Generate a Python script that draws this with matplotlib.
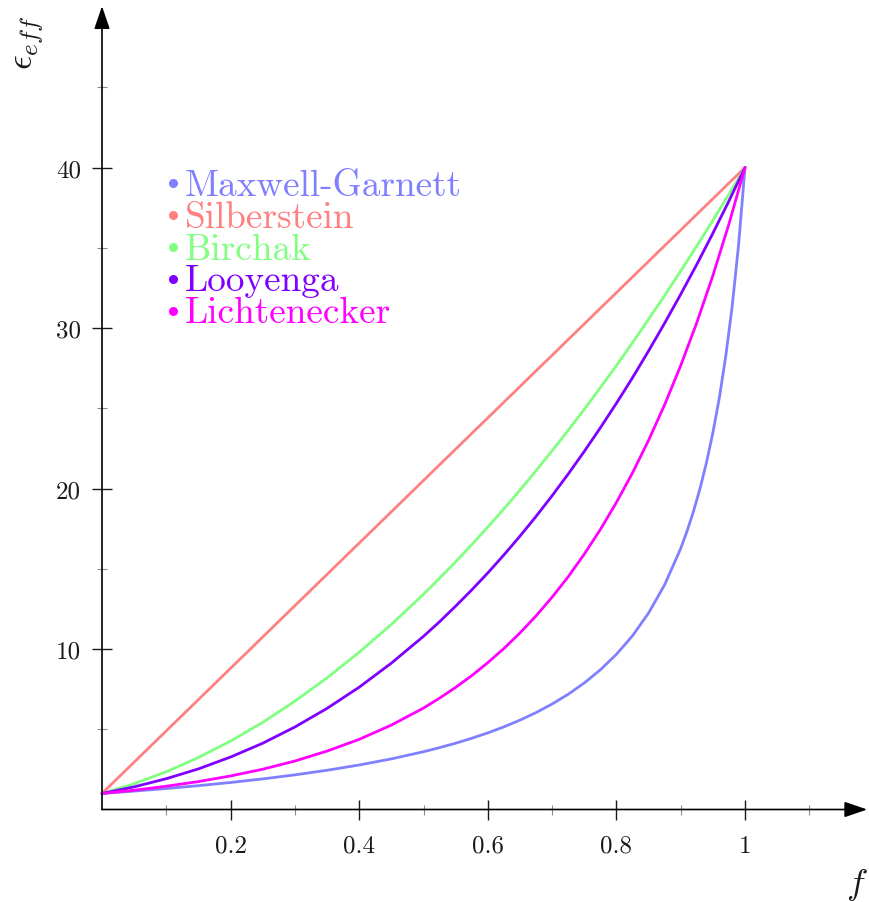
import matplotlib
matplotlib.use("Agg")
import matplotlib.pyplot as plt
from matplotlib.ticker import FixedLocator

plt.rcParams['font.family'] = 'cmr10'
plt.rcParams['mathtext.fontset'] = 'cm'

# volume fraction grid
f = [0.0, 0.05, 0.1, 0.15, 0.2, 0.25, 0.3, 0.35, 0.4, 0.45, 0.5,
     0.525, 0.55, 0.575, 0.6, 0.625, 0.65, 0.675, 0.7, 0.725, 0.75, 0.775,
     0.8, 0.825, 0.85, 0.875, 0.9, 0.925, 0.95, 0.975, 1.0]

silberstein = [1.0, 2.95, 4.9, 6.85, 8.8, 10.75, 12.7, 14.65, 16.6, 18.55, 20.5,
               21.48, 22.45, 23.43, 24.4, 25.38, 26.35, 27.33, 28.3, 29.28, 30.25, 31.23,
               32.2, 33.18, 34.15, 35.13, 36.1, 37.08, 38.05, 39.03, 40.0]
birchak = [1.0, 1.60, 2.35, 3.24, 4.26, 5.43, 6.75, 8.20, 9.80, 11.53, 13.41,
           14.41, 15.43, 16.50, 17.60, 18.73, 19.90, 21.11, 22.35, 23.62, 24.93, 26.28,
           27.66, 29.08, 30.54, 32.02, 33.55, 35.11, 36.70, 38.33, 40.0]
looyenga = [1.0, 1.41, 1.92, 2.53, 3.27, 4.13, 5.14, 6.30, 7.62, 9.12, 10.79,
            11.70, 12.67, 13.68, 14.74, 15.86, 17.03, 18.26, 19.55, 20.90, 22.31, 23.78,
            25.31, 26.90, 28.57, 30.30, 32.10, 33.96, 35.90, 37.91, 40.0]
lichtenecker = [1.0, 1.20, 1.45, 1.74, 2.09, 2.51, 3.02, 3.64, 4.37, 5.26, 6.32,
                6.94, 7.61, 8.34, 9.15, 10.03, 11.00, 12.06, 13.23, 14.50, 15.91, 17.44,
                19.13, 20.97, 23.00, 25.22, 27.66, 30.33, 33.26, 36.48, 40.0]

f_mg = [0.0, 0.05, 0.1, 0.15, 0.2, 0.25, 0.3, 0.35, 0.4, 0.45, 0.5, 0.525, 0.55, 0.575,
        0.6, 0.625, 0.65, 0.675, 0.7, 0.725, 0.75, 0.775, 0.8, 0.825, 0.85, 0.875, 0.9,
        0.91, 0.92, 0.93, 0.94, 0.95, 0.96, 0.97, 0.98, 0.99, 1.0]
maxwell_garnett = [1.0, 1.146, 1.307, 1.485, 1.684, 1.907, 2.158, 2.444, 2.773, 3.153,
                   3.6, 3.854, 4.131, 4.437, 4.774, 5.149, 5.568, 6.038, 6.571, 7.180,
                   7.882, 8.701, 9.667, 10.82, 12.24, 14.0, 16.26, 17.36, 18.59, 19.99,
                   21.60, 23.46, 25.63, 28.22, 31.33, 35.17, 40.0]

names = ['Maxwell-Garnett', 'Silberstein', 'Birchak', 'Looyenga', 'Lichtenecker']
colors = ['#8080ff', '#ff8080', '#80ff80', '#8000ff', '#ff00ff']

x_major = [0.2, 0.4, 0.6, 0.8, 1.0]
x_labels = ['0.2', '0.4', '0.6', '0.8', '1']
x_minor = [0.1, 0.3, 0.5, 0.7, 0.9, 1.1]
y_major = [10, 20, 30, 40]
y_labels = ['10', '20', '30', '40']
y_minor = [5, 15, 25, 35, 45]

W, H = 869, 903
fig = plt.figure(figsize=(W / 100, H / 100), dpi=100)

xmax, ymax = 1.19, 50.05
px_x = 643.0   # pixels per unit f
px_y = 16.05   # pixels per unit eps
x0, y0 = 102, 810.5
ax = fig.add_axes([x0 / W, (H - y0) / H, xmax * px_x / W, ymax * px_y / H])
ax.set_xlim(0, xmax)
ax.set_ylim(0, ymax)

series = [(f_mg, maxwell_garnett), (f, silberstein), (f, birchak), (f, looyenga), (f, lichtenecker)]
for (xs, ys), c in zip(series, colors):
    ax.plot(xs, ys, color=c, lw=2.0, solid_capstyle='round', solid_joinstyle='round',
            clip_on=False, zorder=3)

for s in ax.spines.values():
    s.set_visible(False)

ax.xaxis.set_major_locator(FixedLocator(x_major))
ax.xaxis.set_minor_locator(FixedLocator(x_minor))
ax.yaxis.set_major_locator(FixedLocator(y_major))
ax.yaxis.set_minor_locator(FixedLocator(y_minor))
ax.set_xticklabels(x_labels)
ax.set_yticklabels(y_labels)
ax.tick_params(which='major', direction='inout', length=14, width=1.0, color='#1a1a1a',
               labelsize=18, labelcolor='#1a1a1a')
ax.tick_params(axis='x', which='major', pad=11)
ax.tick_params(axis='y', which='major', pad=8)
ax.tick_params(which='minor', direction='inout', length=6.5, width=0.8, color='#8c8c8c')

# axis lines with arrow heads
arrow = dict(arrowstyle='-|>,head_length=14,head_width=4.8', mutation_scale=1,
             color='black', lw=1.2, shrinkA=0, shrinkB=0)
ax.annotate('', xy=(xmax, 0), xytext=(0, 0), xycoords='data', arrowprops=arrow,
            annotation_clip=False, zorder=5)
ax.annotate('', xy=(0, ymax), xytext=(0, 0), xycoords='data', arrowprops=arrow,
            annotation_clip=False, zorder=5)

# legend drawn as coloured bullets + names
lx_dot = (173 - x0) / px_x
lx_txt = (185 - x0) / px_x
ly0 = (y0 - 184) / px_y
dy = 31.9 / px_y
for i, (nm, c) in enumerate(zip(names, colors)):
    yy = ly0 - i * dy
    ax.plot([lx_dot], [yy], 'o', color=c, ms=6.5, mec='none', zorder=4)
    ax.text(lx_txt, yy - 11.7 / px_y, nm, color=c, fontsize=26.8, va='baseline', ha='left')

fig.text(30 / W, 1 - 43 / H, r'$\epsilon_{eff}$', rotation=90, fontsize=26,
         ha='center', va='center', color='#1a1a1a')
fig.text(857 / W, 1 - 885 / H, r'$f$', fontsize=26, ha='center', va='center', color='#1a1a1a')

fig.savefig('out.png', dpi=100)
